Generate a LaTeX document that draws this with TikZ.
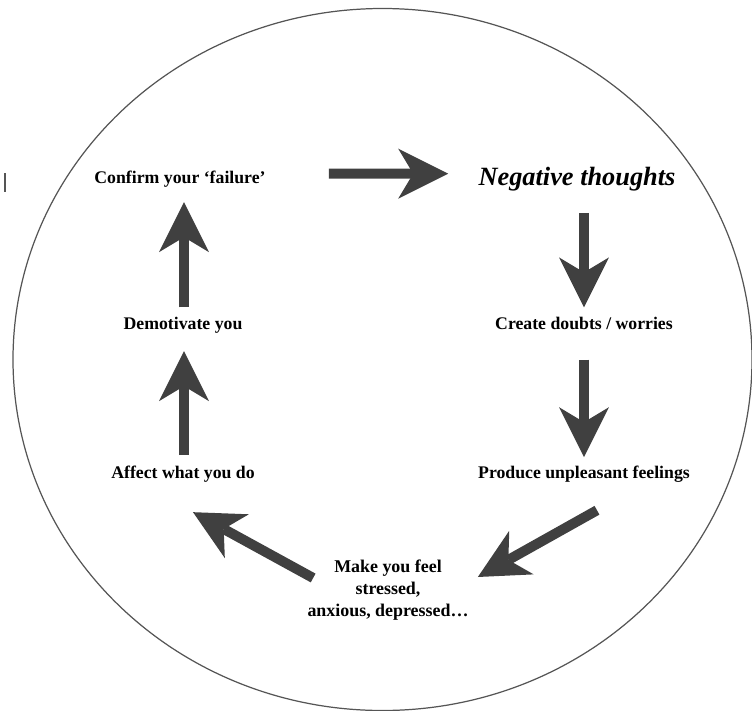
\documentclass[tikz,border=0pt]{standalone}
\usepackage{fontspec}
\setmainfont{Liberation Serif}
\usetikzlibrary{arrows.meta, positioning}
\definecolor{arrowgray}{RGB}{64,64,64}
\definecolor{ringgray}{RGB}{85,85,85}

\begin{document}
\begin{tikzpicture}[x=0.02cm, y=-0.02cm, every node/.style={inner sep=0pt, font=\fontsize{10.1}{12}\selectfont\bfseries},
  bigarrow/.style={draw=arrowgray, line width=0.2cm, -{Stealth[length=1cm, width=1cm, inset=0.3cm, line width=0pt, fill=arrowgray]}}]
\useasboundingbox (0,0) rectangle (752,711);
% Outer ring
\draw[ringgray, line width=0.7pt] (382.5,359.5) ellipse [x radius=369.5, y radius=351];
\draw[ringgray, line width=0.8pt] (5,173) -- (5,192);
% Cycle steps
\node[anchor=base] (confirm) at (180,183) {Confirm your ‘failure’};
\node[anchor=base, font=\fontsize{15}{18}\selectfont\bfseries\itshape] (negative) at (577,185) {Negative thoughts};
\node[anchor=base] (doubts) at (584,329) {Create doubts / worries};
\node[anchor=base] (feelings) at (584,478) {Produce unpleasant feelings};
\node[anchor=north, align=center, font=\fontsize{10.2}{12.4}\selectfont\bfseries] (stressed) at (388,560) {Make you feel\\stressed,\\anxious, depressed…};
\node[anchor=base] (affect) at (183,478) {Affect what you do};
\node[anchor=base] (demotivate) at (183,329) {Demotivate you};
% Arrows round the cycle
\draw[bigarrow, shorten <=1.26cm, shorten >=0.6cm] ([yshift=0.1cm]confirm.east) -- ([yshift=0.1cm]negative.west);
\draw[bigarrow, shorten <=0.44cm, shorten >=0.18cm] (negative.south -| doubts.north) -- (doubts.north);
\draw[bigarrow, shorten <=0.6cm, shorten >=0.16cm] (doubts.south) -- (feelings.north);
\draw[bigarrow] ([xshift=0.26cm, yshift=-0.56cm]feelings.south) -- ([xshift=0.18cm, yshift=-0.34cm]stressed.north east);
\draw[bigarrow] ([xshift=0.12cm, yshift=-0.36cm]stressed.north west) -- ([xshift=0.2cm, yshift=-0.6cm]affect.south);
\draw[bigarrow, shorten <=0.2cm, shorten >=0.36cm] ([xshift=0.02cm]affect.north) -- ([xshift=0.02cm]demotivate.south);
\draw[bigarrow, shorten <=0.18cm, shorten >=0.3cm] ([xshift=0.02cm]demotivate.north) -- ([xshift=0.02cm]demotivate.north |- confirm.south);
\end{tikzpicture}
\end{document}
